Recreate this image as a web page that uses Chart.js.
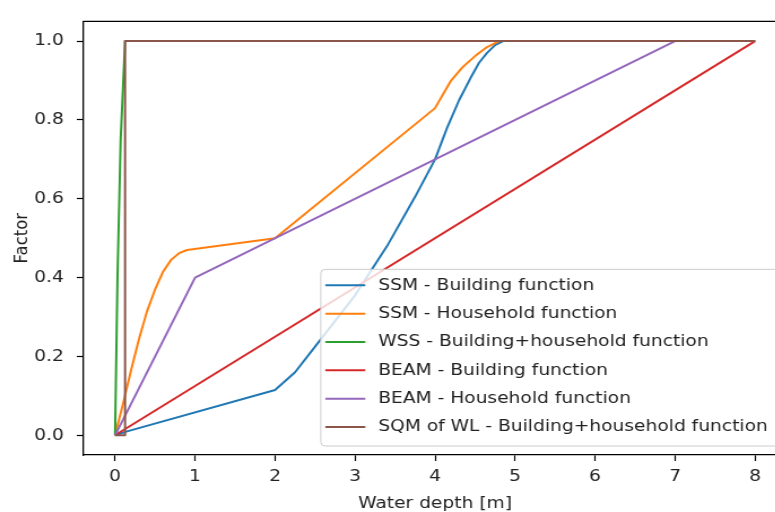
<!DOCTYPE html>
<html>
<head>
<meta charset="utf-8">
<script src="https://cdn.jsdelivr.net/npm/chart.js@4/dist/chart.umd.min.js"></script>
<style>
html, body { margin:0; padding:0; background:#fff; overflow:hidden; width:775px; height:512px; }
#wrap { position:absolute; left:0; top:0; width:710px; height:512px; transform:scaleX(1.13); transform-origin:0 0; }
canvas { display:block; }
</style>
</head>
<body>
<div id="wrap"><canvas id="c" width="710" height="512"></canvas></div>
<script>
// ---- data ----
const seriesLabels = [
  'SSM - Building function',
  'SSM - Household function',
  'WSS - Building+household function',
  'BEAM - Building function',
  'BEAM - Household function',
  'SQM of WL - Building+household function'
];
const ssmBuildingX  = [0, 0.15, 2, 2.25, 2.5, 3, 3.4, 3.75, 4, 4.15, 4.3, 4.44, 4.55, 4.65, 4.75, 4.85, 8];
const ssmBuildingY  = [0, 0.01, 0.115, 0.16, 0.225, 0.355, 0.48, 0.605, 0.70, 0.78, 0.85, 0.905, 0.945, 0.97, 0.99, 1.0, 1.0];
const ssmHouseholdX = [0, 0.1, 0.2, 0.3, 0.4, 0.5, 0.6, 0.7, 0.8, 0.9, 2, 4, 4.1, 4.2, 4.35, 4.5, 4.65, 4.8, 8];
const ssmHouseholdY = [0, 0.08, 0.165, 0.245, 0.315, 0.37, 0.415, 0.445, 0.462, 0.47, 0.5, 0.83, 0.865, 0.9, 0.935, 0.962, 0.985, 1.0, 1.0];
const wssX          = [0, 0.03, 0.07, 0.125, 8];
const wssY          = [0, 0.4, 0.75, 1.0, 1.0];
const beamBuildingX = [0, 8];
const beamBuildingY = [0, 1.0];
const beamHouseholdX = [0, 1, 7, 8];
const beamHouseholdY = [0, 0.4, 1.0, 1.0];
const sqmX          = [0, 0.125, 0.125, 8];
const sqmY          = [0, 0, 1.0, 1.0];
const xTicks = [0, 1, 2, 3, 4, 5, 6, 7, 8];
const yTicks = [0, 0.2, 0.4, 0.6, 0.8, 1.0];
const yTickLabels = ['0.0', '0.2', '0.4', '0.6', '0.8', '1.0'];
const xTitle = 'Water depth [m]';
const yTitle = 'Factor';

// ---- styling ----
const seriesColors = ['#1f77b4', '#ff7f0e', '#2ca02c', '#d62728', '#9467bd', '#8c564b'];
const seriesX = [ssmBuildingX, ssmHouseholdX, wssX, beamBuildingX, beamHouseholdX, sqmX];
const seriesY = [ssmBuildingY, ssmHouseholdY, wssY, beamBuildingY, beamHouseholdY, sqmY];
const FONT = '"DejaVu Sans", sans-serif';
const FS = 16.5;
const TXT = '#222';

Chart.defaults.font.family = FONT;
Chart.defaults.font.size = FS;
Chart.defaults.color = TXT;

const datasets = seriesLabels.map((lab, i) => ({
  label: lab,
  data: seriesX[i].map((x, j) => ({ x: x, y: seriesY[i][j] })),
  borderColor: seriesColors[i],
  backgroundColor: seriesColors[i],
  borderWidth: 2,
  pointRadius: 0,
  tension: 0,
  fill: false,
  borderJoinStyle: 'round',
  order: seriesLabels.length - i
}));

const framePlugin = {
  id: 'frame',
  afterDraw(chart) {
    const { ctx, chartArea: a } = chart;
    ctx.save();
    ctx.strokeStyle = '#000';
    ctx.lineWidth = 1.3;
    ctx.beginPath();
    ctx.moveTo(a.left, a.top);
    ctx.lineTo(a.right, a.top);
    ctx.lineTo(a.right, a.bottom);
    ctx.stroke();

    // legend (lower right, matplotlib style)
    const ds = chart.data.datasets;
    ctx.font = FS + 'px ' + FONT;
    const tw = Math.max(...ds.map(d => ctx.measureText(d.label).width));
    const padL = 4, handle = 35.4, gap = 11.4, padR = 10;
    const rowH = 28.33, padTop = 16, padBottom = 19;
    const w = padL + handle + gap + tw + padR;
    const h = padTop + rowH * (ds.length - 1) + padBottom;
    const right = a.right - 7, bottom = a.bottom - 9;
    const left = right - w, top = bottom - h;
    ctx.beginPath();
    ctx.roundRect(left, top, w, h, 4);
    ctx.fillStyle = 'rgba(255,255,255,0.8)';
    ctx.fill();
    ctx.strokeStyle = '#cccccc';
    ctx.lineWidth = 1;
    ctx.stroke();
    ds.forEach((d, i) => {
      const y = top + padTop + i * rowH;
      ctx.beginPath();
      ctx.moveTo(left + padL, y);
      ctx.lineTo(left + padL + handle, y);
      ctx.strokeStyle = d.borderColor;
      ctx.lineWidth = 2;
      ctx.stroke();
      ctx.fillStyle = TXT;
      ctx.textAlign = 'left';
      ctx.textBaseline = 'middle';
      ctx.fillText(d.label, left + padL + handle + gap, y);
    });
    ctx.restore();
  }
};

new Chart(document.getElementById('c'), {
  type: 'line',
  data: { datasets: datasets },
  options: {
    responsive: false,
    animation: false,
    devicePixelRatio: 1,
    layout: { padding: { left: 0, top: 9, right: 13.5, bottom: 0 } },
    plugins: { legend: { display: false }, tooltip: { enabled: false } },
    scales: {
      x: {
        type: 'linear',
        min: -0.4,
        max: 8.4,
        afterBuildTicks: s => { s.ticks = xTicks.map(v => ({ value: v })); },
        afterFit: s => { s.height = 57; },
        grid: { display: true, drawOnChartArea: false, drawTicks: true, tickLength: 6, tickColor: '#000', tickWidth: 1.2 },
        border: { display: true, color: '#000', width: 1.3 },
        ticks: { padding: 6, color: TXT, maxRotation: 0, autoSkip: false, callback: v => String(v) },
        title: { display: true, text: xTitle, color: TXT, padding: { top: 0, bottom: -2 } }
      },
      y: {
        type: 'linear',
        min: -0.05,
        max: 1.05,
        afterBuildTicks: s => { s.ticks = yTicks.map(v => ({ value: v })); },
        afterFit: s => { s.width = 73.5; },
        grid: { display: true, drawOnChartArea: false, drawTicks: true, tickLength: 5.5, tickColor: '#000', tickWidth: 1.2 },
        border: { display: true, color: '#000', width: 1.3 },
        ticks: { padding: 11.5, color: TXT, autoSkip: false, callback: v => yTickLabels[yTicks.indexOf(v)] ?? v.toFixed(1) },
        title: { display: true, text: yTitle, color: TXT, padding: { top: 9.5, bottom: 0 } }
      }
    }
  },
  plugins: [framePlugin]
});
</script>
</body>
</html>
